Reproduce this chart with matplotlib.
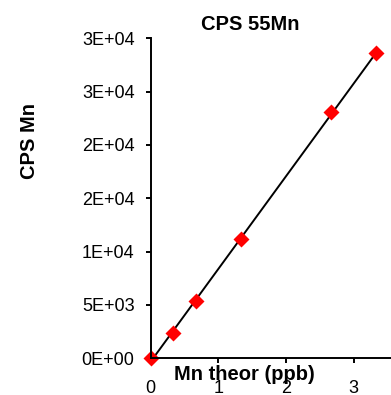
import numpy as np
import matplotlib
matplotlib.use('Agg')
from matplotlib import pyplot as plt

plt.rcParams['font.family'] = ['Liberation Sans', 'DejaVu Sans']

# calibration standards (ppb) and measured counts
mn_theor = [0, 0.333, 0.667, 1.333, 2.667, 3.333]
cps_mn = [0, 2344, 5400, 11184, 23062, 28594]

y_ticks = [0, 5000, 10000, 15000, 20000, 25000, 30000]
y_tick_labels = ['0E+00', '5E+03', '1E+04', '2E+04', '2E+04', '3E+04', '3E+04']
x_ticks = [0, 1, 2, 3]


def main():
    fig = plt.figure(figsize=(3.91, 3.95), dpi=100)
    ax = fig.add_axes([0.3854, 0.0929, 0.6146, 0.8101])

    # linear trendline over the data range
    slope, intercept = np.polyfit(mn_theor, cps_mn, 1)
    xs = np.array([min(mn_theor), max(mn_theor)])
    ax.plot(xs, slope * xs + intercept, color='black', lw=1.4, zorder=2)
    ax.plot(mn_theor, cps_mn, ls='none', marker='D', ms=8, color='red',
            mec='none', clip_on=False, zorder=2.2)

    ax.set_xlim(0, 3.55)
    ax.set_ylim(0, 30000)
    ax.set_yticks(y_ticks)
    ax.set_yticklabels(y_tick_labels)
    ax.set_xticks(x_ticks)

    ax.spines['top'].set_visible(False)
    ax.spines['right'].set_visible(False)
    ax.spines['left'].set_linewidth(1.4)
    ax.spines['bottom'].set_linewidth(1.4)
    ax.tick_params(axis='both', direction='out', length=3.6, width=1.4, labelsize=13)
    ax.tick_params(axis='y', pad=8)
    ax.tick_params(axis='x', pad=12)

    fig.text(250 / 391, 1 - 25 / 395, 'CPS 55Mn', ha='center', va='center',
             fontsize=14.5, fontweight='bold')
    fig.text(29.5 / 391, 1 - 141 / 395, 'CPS Mn', ha='center', va='center',
             rotation=90, fontsize=14.5, fontweight='bold')
    fig.text(244 / 391, 1 - 375 / 395, 'Mn theor (ppb)', ha='center', va='center',
             fontsize=14.5, fontweight='bold')

    fig.savefig('out.png', dpi=100)


if __name__ == "__main__":
    main()
